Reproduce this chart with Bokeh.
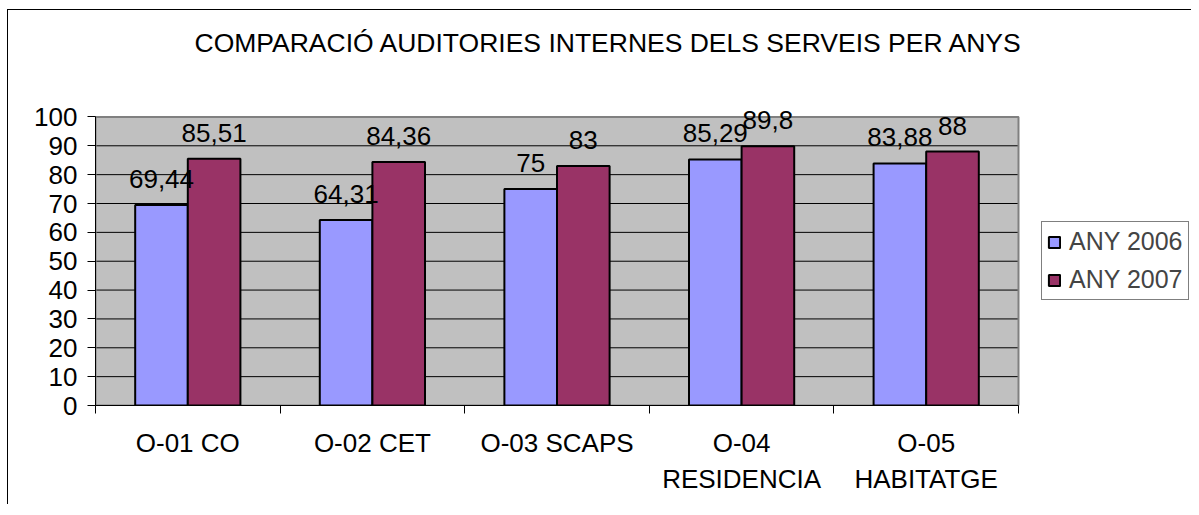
from bokeh.plotting import figure
from bokeh.models import ColumnDataSource, FixedTicker, Legend, LegendItem, Range1d
from bokeh.embed import file_html
from bokeh.resources import INLINE
from bokeh.core.properties import value

# ---- data ----
categories = ["O-01 CO", "O-02 CET", "O-03 SCAPS", "O-04\nRESIDENCIA", "O-05\nHABITATGE"]
any_2006 = [69.44, 64.31, 75, 85.29, 83.88]
any_2007 = [85.51, 84.36, 83, 89.8, 88]
series_names = ["ANY 2006", "ANY 2007"]
y_ticks = [0, 10, 20, 30, 40, 50, 60, 70, 80, 90, 100]
title_text = "COMPARACIÓ AUDITORIES INTERNES DELS SERVEIS PER ANYS"

FONT = "Liberation Sans"
FS = "26px"
BAR_W = 0.285
n = len(categories)
centers = [i + 0.5 for i in range(n)]
y_max = y_ticks[-1]

# layout (pixels)
W, H = 1184, 495
LEFT, BOTTOM = 87, 100
PX_PER_CAT = 184.6
x_end = (W - LEFT) / PX_PER_CAT   # frame extends to the right to host the legend
y_end = 115.4                     # frame extends above the plot area (gap below title)

def fmt(v):
    return f"{v:g}".replace(".", ",")

src06 = ColumnDataSource(dict(x=[c - BAR_W / 2 for c in centers], top=any_2006,
                              lab=[fmt(v) for v in any_2006]))
src07 = ColumnDataSource(dict(x=[c + BAR_W / 2 for c in centers], top=any_2007,
                              lab=[fmt(v) for v in any_2007]))

p = figure(width=W, height=H, output_backend="svg", toolbar_location=None,
           x_range=Range1d(0, x_end), y_range=Range1d(0, y_end),
           min_border_left=LEFT, min_border_top=0, min_border_right=0,
           min_border_bottom=BOTTOM)
p.styles = {"border-left": "1px solid black", "border-top": "1px solid black",
            "margin-left": "7px", "margin-top": "9px"}

p.title.text = title_text
p.title.text_font = FONT
p.title.text_font_size = "26.5px"
p.title.text_font_style = "normal"
p.title.text_color = "black"
p.title.align = "left"
p.title.offset = 99
p.title.standoff = 30

p.background_fill_color = "white"
p.border_fill_color = "white"
p.outline_line_color = None
p.xgrid.grid_line_color = None
p.ygrid.grid_line_color = None

# plot area
p.quad(left=[0], right=[n], bottom=[0], top=[y_max], fill_color="#C0C0C0", line_color=None)
p.segment(x0=[0] * len(y_ticks), x1=[n] * len(y_ticks), y0=y_ticks, y1=y_ticks,
          line_color="black", line_width=1)
p.quad(left=[0], right=[n], bottom=[0], top=[y_max], fill_color=None,
       line_color="#808080", line_width=2)

r06 = p.vbar(x="x", top="top", width=BAR_W, source=src06, fill_color="#9999FF",
             line_color="black", line_width=2)
r07 = p.vbar(x="x", top="top", width=BAR_W, source=src07, fill_color="#993366",
             line_color="black", line_width=2)

for s in (src06, src07):
    p.text(x="x", y="top", text="lab", source=s, text_align="center",
           text_baseline="alphabetic", y_offset=-26, text_font=value(FONT),
           text_font_size=FS, text_color="black")

# y axis
p.yaxis.bounds = (0, y_max)
p.yaxis.ticker = FixedTicker(ticks=y_ticks)
p.yaxis.major_tick_out = 8
p.yaxis.major_tick_in = 0
p.yaxis.minor_tick_line_color = None
p.yaxis.major_label_standoff = 10
p.yaxis.major_label_text_font = FONT
p.yaxis.major_label_text_font_size = FS
p.yaxis.major_label_text_color = "black"
p.yaxis.axis_line_color = "black"

# x axis: labels at centers, ticks at boundaries
p.xaxis.bounds = (0, n)
p.xaxis.ticker = FixedTicker(ticks=centers, minor_ticks=list(range(n + 1)))
p.xaxis.major_label_overrides = {c: lab for c, lab in zip(centers, categories)}
p.xaxis.major_tick_out = 0
p.xaxis.major_tick_in = 0
p.xaxis.minor_tick_out = 8
p.xaxis.minor_tick_in = 0
p.xaxis.minor_tick_line_color = "black"
p.xaxis.major_label_standoff = 14
p.xaxis.major_label_text_font = FONT
p.xaxis.major_label_text_font_size = FS
p.xaxis.major_label_text_color = "black"
p.xaxis.axis_line_color = "black"

legend = Legend(items=[LegendItem(label=series_names[0], renderers=[r06]),
                       LegendItem(label=series_names[1], renderers=[r07])],
                location=(946, 105))
legend.glyph_width = 14
legend.glyph_height = 14
legend.label_text_font = FONT
legend.label_text_font_size = "25px"
legend.label_standoff = 8
legend.label_height = 26
legend.spacing = 9
legend.padding = 5
legend.margin = 0
legend.border_line_color = "black"
legend.border_line_width = 1
legend.background_fill_color = "white"
legend.background_fill_alpha = 1
p.add_layout(legend)

open("out.html", "w").write(file_html(p, INLINE))
